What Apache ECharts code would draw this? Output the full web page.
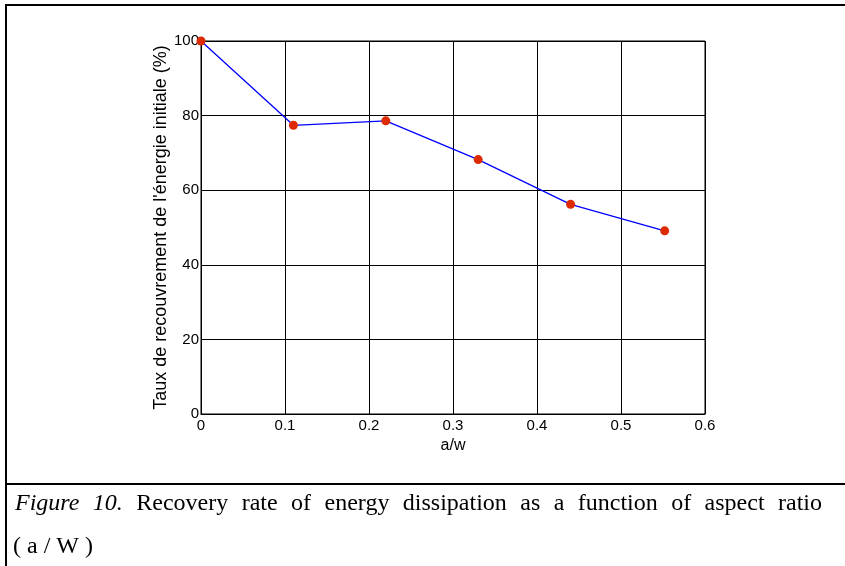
<!DOCTYPE html>
<html>
<head>
<meta charset="utf-8">
<script src="https://cdn.jsdelivr.net/npm/echarts@6/dist/echarts.min.js"></script>
<style>
  html, body { margin: 0; padding: 0; background: #fff; }
  #chart { width: 845px; height: 566px; }
</style>
</head>
<body>
<div id="chart"></div>
<script>
// data
let ratios = [0, 0.11, 0.22, 0.33, 0.44, 0.552];
let recovery = [100, 77.4, 78.6, 68.2, 56.2, 49.1];
let captionItalic = ['Figure', '10.'];
let captionWords = ['Recovery', 'rate', 'of', 'energy', 'dissipation', 'as', 'a', 'function', 'of', 'aspect', 'ratio'];
let captionLine2 = '(a/W)';

let chart = echarts.init(document.getElementById('chart'));

// justify the first caption line between the two edges, like the document does
function captionGraphics() {
    let ctx = document.createElement('canvas').getContext('2d');
    let fontIt = 'italic 24px "Liberation Serif"';
    let fontUp = '24px "Liberation Serif"';
    let words = captionItalic.map(function (w) { return { t: w, f: fontIt }; })
        .concat(captionWords.map(function (w) { return { t: w, f: fontUp }; }));
    let total = 0;
    words.forEach(function (w) {
        ctx.font = w.f;
        w.w = ctx.measureText(w.t).width;
        total += w.w;
    });
    let x0 = 15, x1 = 822;
    let gap = (x1 - x0 - total) / (words.length - 1);
    let els = [];
    let x = x0;
    words.forEach(function (w) {
        els.push({
            type: 'text', x: x, y: 504,
            style: { text: w.t, font: w.f, fill: '#000', textAlign: 'left', textVerticalAlign: 'middle' }
        });
        x += w.w + gap;
    });
    // second line is typeset loosely: ( a / W )
    let cx = 13;
    captionLine2.split('').forEach(function (ch) {
        ctx.font = fontUp;
        els.push({
            type: 'text', x: cx, y: 547,
            style: { text: ch, font: fontUp, fill: '#000', textAlign: 'left', textVerticalAlign: 'middle' }
        });
        cx += ctx.measureText(ch).width + 6;
    });
    return els;
}

let frame = [
    { type: 'rect', shape: { x: 6, y: 5, width: 900, height: 700 }, style: { fill: null, stroke: '#000', lineWidth: 2 } },
    { type: 'line', shape: { x1: 6, y1: 484, x2: 845, y2: 484 }, style: { stroke: '#000', lineWidth: 2 } }
];

let option = {
    animation: false,
    backgroundColor: '#fff',
    grid: { left: 201, right: 140, top: 41, bottom: 152, show: true, borderColor: '#000', borderWidth: 1 },
    xAxis: {
        type: 'value', min: 0, max: 0.6, interval: 0.1,
        name: 'a/w', nameLocation: 'middle', nameGap: 19,
        nameTextStyle: { fontFamily: 'Liberation Sans', fontSize: 16, color: '#000' },
        axisLine: { lineStyle: { color: '#000', width: 1 } },
        axisTick: { show: false },
        axisLabel: { fontFamily: 'Liberation Sans', fontSize: 15, color: '#000', margin: 4 },
        splitLine: { show: true, lineStyle: { color: '#000', width: 1 } }
    },
    yAxis: {
        type: 'value', min: 0, max: 100, interval: 20,
        name: "Taux de recouvrement de l'énergie initiale (%)", nameLocation: 'middle', nameGap: 31,
        nameMoveOverlap: false,
        nameTextStyle: { fontFamily: 'Liberation Sans', fontSize: 18, color: '#000' },
        axisLine: { show: true, lineStyle: { color: '#000', width: 1 } },
        axisTick: { show: false },
        axisLabel: { fontFamily: 'Liberation Sans', fontSize: 15, color: '#000', margin: 2 },
        splitLine: { show: true, lineStyle: { color: '#000', width: 1 } }
    },
    series: [{
        type: 'line',
        data: ratios.map(function (r, i) { return [r, recovery[i]]; }),
        symbol: 'circle', symbolSize: 9,
        lineStyle: { color: '#0000ff', width: 1.3 },
        itemStyle: { color: '#dd2a00' }
    }],
    graphic: frame.concat(captionGraphics())
};

chart.setOption(option);
</script>
</body>
</html>
